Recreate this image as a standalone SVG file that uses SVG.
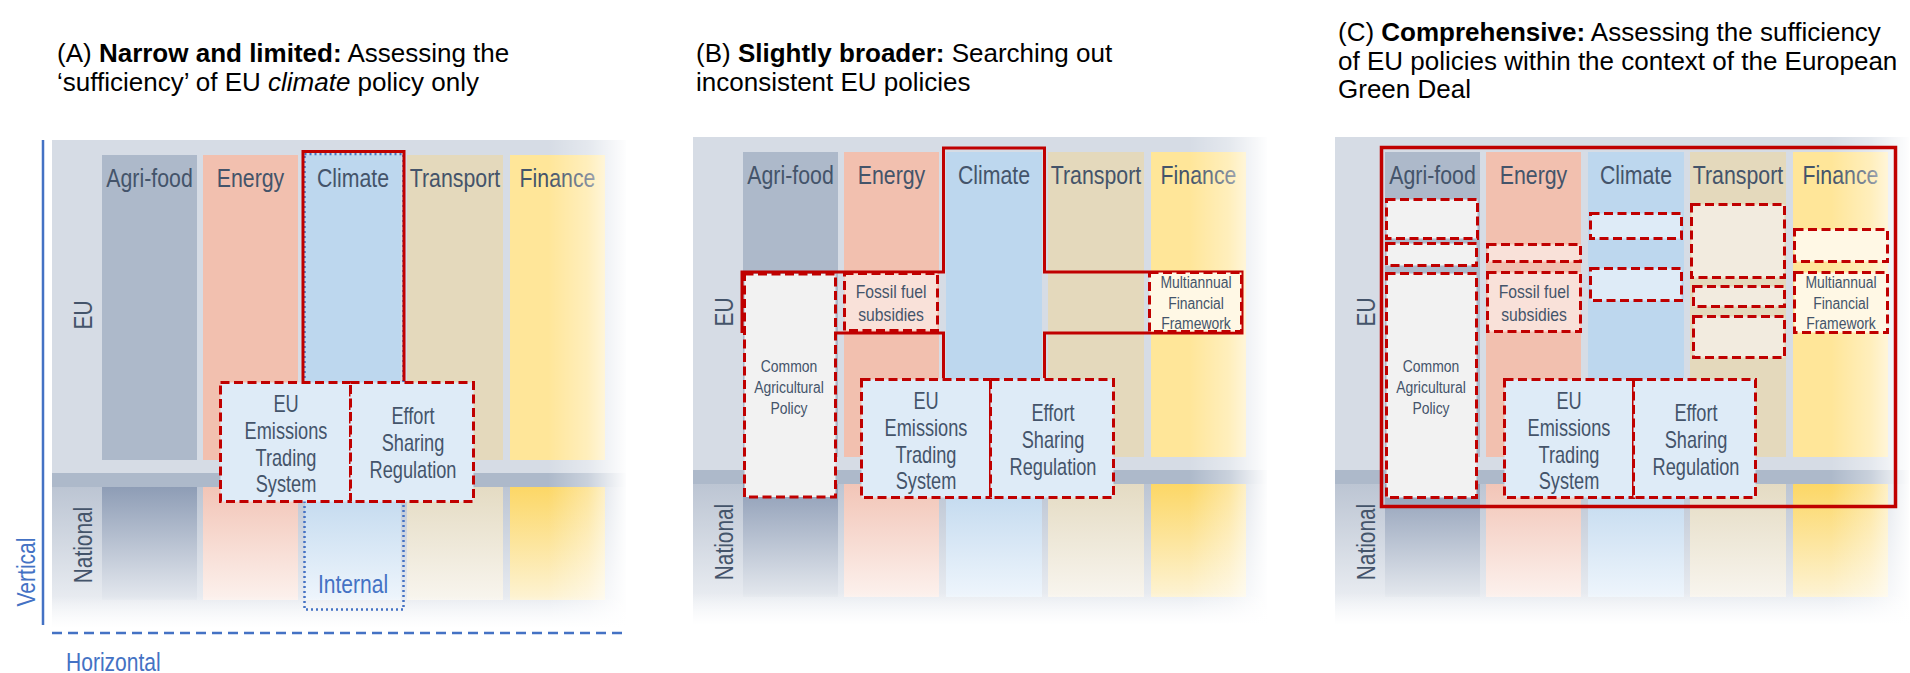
<svg xmlns="http://www.w3.org/2000/svg" width="1910" height="673" viewBox="0 0 1910 673">
<defs>
<style>
text{font-family:"Liberation Sans",Arial,Helvetica,sans-serif}
.ttl{font-size:26px;fill:#000}
.cl{font-size:26px;fill:#44546a;text-anchor:middle}
.bl{fill:#4472c4}
.bt{font-size:23px;fill:#44546a;text-anchor:middle}
.st{font-size:18.5px;fill:#44546a;text-anchor:middle}
.xt{font-size:16px;fill:#44546a;text-anchor:middle}
.rd{stroke:#c00000;stroke-width:3;stroke-dasharray:9 4.5}
.ol{fill:none;stroke:#c00000;stroke-width:3}
.fb{fill:#deebf7}.fg{fill:#f2f2f2}.fs{fill:#f9e1d9}.fy{fill:#fff8e5}.ft{fill:#f2ebdf}
.bg{fill:#d6dce5}.band{fill:#adb9ca}
.ca{fill:#adb9ca}.ce{fill:#f2c0af}.cc{fill:#bdd7ee}.ct{fill:#e4d9bc}.cf{fill:#ffe699}
</style>
<linearGradient id="gBg" x1="0" y1="0" x2="0" y2="1"><stop offset="0" stop-color="#bcc5d3"/><stop offset="1" stop-color="#f3f5f8"/></linearGradient>
<linearGradient id="gNa" x1="0" y1="0" x2="0" y2="1"><stop offset="0" stop-color="#8e9db6"/><stop offset="1" stop-color="#e4e8ee"/></linearGradient>
<linearGradient id="gNe" x1="0" y1="0" x2="0" y2="1"><stop offset="0" stop-color="#f2c5b7"/><stop offset="1" stop-color="#fcf1ed"/></linearGradient>
<linearGradient id="gNc" x1="0" y1="0" x2="0" y2="1"><stop offset="0" stop-color="#c0d8ee"/><stop offset="1" stop-color="#eef5fc"/></linearGradient>
<linearGradient id="gNt" x1="0" y1="0" x2="0" y2="1"><stop offset="0" stop-color="#e4dbc3"/><stop offset="1" stop-color="#f8f5ee"/></linearGradient>
<linearGradient id="gNf" x1="0" y1="0" x2="0" y2="1"><stop offset="0" stop-color="#fcd766"/><stop offset="1" stop-color="#fdf3d4"/></linearGradient>
<linearGradient id="fadeR" gradientUnits="userSpaceOnUse" x1="548" y1="0" x2="628" y2="0"><stop offset="0" stop-color="#fff" stop-opacity="0"/><stop offset="0.5" stop-color="#fff" stop-opacity="0.35"/><stop offset="1" stop-color="#fff" stop-opacity="1"/></linearGradient>
<linearGradient id="fadeB" gradientUnits="userSpaceOnUse" x1="0" y1="596" x2="0" y2="628"><stop offset="0" stop-color="#fff" stop-opacity="0"/><stop offset="1" stop-color="#fff" stop-opacity="1"/></linearGradient>
</defs>
<rect width="1910" height="673" fill="#fff"/>

<!-- Titles -->
<g id="titles">
<text class="ttl" x="57" y="62">(A) <tspan font-weight="bold">Narrow and limited:</tspan> Assessing the</text>
<text class="ttl" x="57" y="91">‘sufficiency’ of EU <tspan font-style="italic">climate</tspan> policy only</text>
<text class="ttl" x="696" y="62">(B) <tspan font-weight="bold">Slightly broader:</tspan> Searching out</text>
<text class="ttl" x="696" y="91">inconsistent EU policies</text>
<text class="ttl" x="1338" y="41">(C) <tspan font-weight="bold">Comprehensive:</tspan> Assessing the sufficiency</text>
<text class="ttl" x="1338" y="70">of EU policies within the context of the European</text>
<text class="ttl" x="1338" y="98">Green Deal</text>
</g>

<!-- ===== Panel A ===== -->
<g id="panel-a">
<g id="a-background">
<rect class="bg" x="52" y="140" width="574" height="487"/>
<rect x="52" y="487" width="574" height="140" fill="url(#gBg)"/>
<rect class="band" x="52" y="473" width="574" height="14"/>
</g>
<g id="a-col-agri"><rect class="ca" x="102" y="155" width="95" height="305"/><rect x="102" y="487" width="95" height="113" fill="url(#gNa)"/><text class="cl" transform="matrix(.82 0 0 1 149.5 187)">Agri-food</text></g>
<g id="a-col-energy"><rect class="ce" x="203" y="155" width="95" height="305"/><rect x="203" y="487" width="95" height="113" fill="url(#gNe)"/><text class="cl" transform="matrix(.82 0 0 1 250.5 187)">Energy</text></g>
<g id="a-col-climate"><rect class="cc" x="305" y="155" width="96" height="305"/><rect x="305" y="487" width="96" height="113" fill="url(#gNc)"/><text class="cl" transform="matrix(.82 0 0 1 353 187)">Climate</text></g>
<g id="a-col-transport"><rect class="ct" x="407" y="155" width="96" height="305"/><rect x="407" y="487" width="96" height="113" fill="url(#gNt)"/><text class="cl" transform="matrix(.82 0 0 1 455 187)">Transport</text></g>
<g id="a-col-finance"><rect class="cf" x="510" y="155" width="95" height="305"/><rect x="510" y="487" width="95" height="113" fill="url(#gNf)"/><text class="cl" transform="matrix(.82 0 0 1 557.5 187)">Finance</text></g>
<g id="a-levels"><text class="cl" transform="matrix(0 -.8 1 0 92 315)">EU</text><text class="cl" transform="matrix(0 -.8 1 0 92 545)">National</text></g>
<rect x="52" y="138" width="576" height="492" fill="url(#fadeR)"/>
<rect x="52" y="138" width="576" height="492" fill="url(#fadeB)"/>
<g id="a-internal">
<rect x="304.5" y="154" width="99" height="455.5" fill="none" stroke="#4472c4" stroke-width="2.5" stroke-dasharray="2 3"/>
<text class="cl bl" transform="matrix(.81 0 0 1 353 593)">Internal</text>
</g>
<g id="a-outline"><path class="ol" d="M303,381 V151.5 H404 V381"/></g>
<g id="a-ets"><rect class="fb rd" x="220.5" y="382.5" width="130" height="119"/>
<text class="bt" transform="matrix(.79 0 0 1 286 0)"><tspan x="0" y="412">EU</tspan><tspan x="0" y="439">Emissions</tspan><tspan x="0" y="466">Trading</tspan><tspan x="0" y="492">System</tspan></text></g>
<g id="a-esr"><rect class="fb rd" x="350.5" y="382.5" width="123" height="119"/>
<text class="bt" transform="matrix(.79 0 0 1 413 0)"><tspan x="0" y="424">Effort</tspan><tspan x="0" y="451">Sharing</tspan><tspan x="0" y="478">Regulation</tspan></text></g>
</g>

<!-- axes (connectors) -->
<g id="connectors">
<line x1="43" y1="140" x2="43" y2="625" stroke="#4472c4" stroke-width="2.5"/>
<line x1="52" y1="633" x2="624" y2="633" stroke="#4472c4" stroke-width="2.5" stroke-dasharray="10 6"/>
</g>
<g id="axis-labels">
<text class="cl bl" transform="matrix(0 -.81 1 0 35 572)">Vertical</text>
<text class="cl bl" style="text-anchor:start" transform="matrix(.81 0 0 1 66 671)">Horizontal</text>
</g>

<!-- ===== Panel B ===== -->
<g id="panel-b" transform="translate(641,-3)">
<g id="b-background">
<rect class="bg" x="52" y="140" width="574" height="487"/>
<rect x="52" y="487" width="574" height="140" fill="url(#gBg)"/>
<rect class="band" x="52" y="473" width="574" height="14"/>
</g>
<g id="b-col-agri"><rect class="ca" x="102" y="155" width="95" height="305"/><rect x="102" y="487" width="95" height="113" fill="url(#gNa)"/><text class="cl" transform="matrix(.82 0 0 1 149.5 187)">Agri-food</text></g>
<g id="b-col-energy"><rect class="ce" x="203" y="155" width="95" height="305"/><rect x="203" y="487" width="95" height="113" fill="url(#gNe)"/><text class="cl" transform="matrix(.82 0 0 1 250.5 187)">Energy</text></g>
<g id="b-col-climate"><rect class="cc" x="305" y="155" width="96" height="305"/><rect x="305" y="487" width="96" height="113" fill="url(#gNc)"/><text class="cl" transform="matrix(.82 0 0 1 353 187)">Climate</text></g>
<g id="b-col-transport"><rect class="ct" x="407" y="155" width="96" height="305"/><rect x="407" y="487" width="96" height="113" fill="url(#gNt)"/><text class="cl" transform="matrix(.82 0 0 1 455 187)">Transport</text></g>
<g id="b-col-finance"><rect class="cf" x="510" y="155" width="95" height="305"/><rect x="510" y="487" width="95" height="113" fill="url(#gNf)"/><text class="cl" transform="matrix(.82 0 0 1 557.5 187)">Finance</text></g>
<g id="b-levels"><text class="cl" transform="matrix(0 -.8 1 0 92 315)">EU</text><text class="cl" transform="matrix(0 -.8 1 0 92 545)">National</text></g>
<rect x="52" y="138" width="576" height="492" fill="url(#fadeR)"/>
<rect x="52" y="138" width="576" height="492" fill="url(#fadeB)"/>
<g id="b-outline"><path class="ol" d="M101,336 V275 H302.5 V151 H403.5 V275 H601 V336 H403.5 V381 M302.5,381 V336 H196"/></g>
<g id="b-cap"><rect class="fg rd" x="103.5" y="277" width="91" height="223"/>
<text class="xt" transform="matrix(.87 0 0 1 148 0)"><tspan x="0" y="375">Common</tspan><tspan x="0" y="396">Agricultural</tspan><tspan x="0" y="417">Policy</tspan></text></g>
<g id="b-fossil"><rect class="fs rd" x="203.5" y="276.5" width="93" height="57"/>
<text class="st" transform="matrix(.85 0 0 1 250 0)"><tspan x="0" y="301">Fossil fuel</tspan><tspan x="0" y="324">subsidies</tspan></text></g>
<g id="b-mff"><rect class="fy rd" x="508.5" y="275.5" width="92" height="59"/>
<text class="xt" transform="matrix(.87 0 0 1 555 0)"><tspan x="0" y="291">Multiannual</tspan><tspan x="0" y="312">Financial</tspan><tspan x="0" y="332">Framework</tspan></text></g>
<g id="b-ets"><rect class="fb rd" x="220.5" y="382.5" width="129" height="118"/>
<text class="bt" transform="matrix(.79 0 0 1 285 0)"><tspan x="0" y="412">EU</tspan><tspan x="0" y="439">Emissions</tspan><tspan x="0" y="466">Trading</tspan><tspan x="0" y="492">System</tspan></text></g>
<g id="b-esr"><rect class="fb rd" x="349.5" y="382.5" width="123" height="118"/>
<text class="bt" transform="matrix(.79 0 0 1 412 0)"><tspan x="0" y="424">Effort</tspan><tspan x="0" y="451">Sharing</tspan><tspan x="0" y="478">Regulation</tspan></text></g>
</g>

<!-- ===== Panel C ===== -->
<g id="panel-c" transform="translate(1283,-3)">
<g id="c-background">
<rect class="bg" x="52" y="140" width="574" height="487"/>
<rect x="52" y="487" width="574" height="140" fill="url(#gBg)"/>
<rect class="band" x="52" y="473" width="574" height="14"/>
</g>
<g id="c-col-agri"><rect class="ca" x="102" y="155" width="95" height="305"/><rect x="102" y="487" width="95" height="113" fill="url(#gNa)"/><text class="cl" transform="matrix(.82 0 0 1 149.5 187)">Agri-food</text></g>
<g id="c-col-energy"><rect class="ce" x="203" y="155" width="95" height="305"/><rect x="203" y="487" width="95" height="113" fill="url(#gNe)"/><text class="cl" transform="matrix(.82 0 0 1 250.5 187)">Energy</text></g>
<g id="c-col-climate"><rect class="cc" x="305" y="155" width="96" height="305"/><rect x="305" y="487" width="96" height="113" fill="url(#gNc)"/><text class="cl" transform="matrix(.82 0 0 1 353 187)">Climate</text></g>
<g id="c-col-transport"><rect class="ct" x="407" y="155" width="96" height="305"/><rect x="407" y="487" width="96" height="113" fill="url(#gNt)"/><text class="cl" transform="matrix(.82 0 0 1 455 187)">Transport</text></g>
<g id="c-col-finance"><rect class="cf" x="510" y="155" width="95" height="305"/><rect x="510" y="487" width="95" height="113" fill="url(#gNf)"/><text class="cl" transform="matrix(.82 0 0 1 557.5 187)">Finance</text></g>
<g id="c-levels"><text class="cl" transform="matrix(0 -.8 1 0 92 315)">EU</text><text class="cl" transform="matrix(0 -.8 1 0 92 545)">National</text></g>
<rect x="52" y="138" width="576" height="492" fill="url(#fadeR)"/>
<rect x="52" y="138" width="576" height="492" fill="url(#fadeB)"/>
<g id="c-outline"><rect x="98.5" y="150.5" width="514" height="359" fill="none" stroke="#c00000" stroke-width="3.5"/></g>
<g id="c-agri-1"><rect class="fg rd" x="103.5" y="202.5" width="91" height="39"/></g>
<g id="c-agri-2"><rect class="fg rd" x="103.5" y="246.5" width="90" height="22"/></g>
<g id="c-cap"><rect class="fg rd" x="103.5" y="276.5" width="90" height="224"/>
<text class="xt" transform="matrix(.87 0 0 1 148 0)"><tspan x="0" y="375">Common</tspan><tspan x="0" y="396">Agricultural</tspan><tspan x="0" y="417">Policy</tspan></text></g>
<g id="c-energy-1"><rect class="fs rd" x="204.5" y="247.5" width="93" height="17"/></g>
<g id="c-fossil"><rect class="fs rd" x="204.5" y="275.5" width="93" height="59"/>
<text class="st" transform="matrix(.85 0 0 1 251 0)"><tspan x="0" y="301">Fossil fuel</tspan><tspan x="0" y="324">subsidies</tspan></text></g>
<g id="c-climate-1"><rect class="fb rd" x="307.5" y="216.5" width="91" height="25"/></g>
<g id="c-climate-2"><rect class="fb rd" x="307.5" y="271.5" width="91" height="32"/></g>
<g id="c-transport-1"><rect class="ft rd" x="408.5" y="207.5" width="93" height="73"/></g>
<g id="c-transport-2"><rect class="ft rd" x="410.5" y="289.5" width="91" height="20"/></g>
<g id="c-transport-3"><rect class="ft rd" x="410.5" y="319.5" width="91" height="41"/></g>
<g id="c-finance-1"><rect class="fy rd" x="511.5" y="232.5" width="93" height="32"/></g>
<g id="c-mff"><rect class="fy rd" x="511.5" y="275.5" width="93" height="60"/>
<text class="xt" transform="matrix(.87 0 0 1 558 0)"><tspan x="0" y="291">Multiannual</tspan><tspan x="0" y="312">Financial</tspan><tspan x="0" y="332">Framework</tspan></text></g>
<g id="c-ets"><rect class="fb rd" x="221.5" y="382.5" width="129" height="118"/>
<text class="bt" transform="matrix(.79 0 0 1 286 0)"><tspan x="0" y="412">EU</tspan><tspan x="0" y="439">Emissions</tspan><tspan x="0" y="466">Trading</tspan><tspan x="0" y="492">System</tspan></text></g>
<g id="c-esr"><rect class="fb rd" x="350.5" y="382.5" width="122" height="118"/>
<text class="bt" transform="matrix(.79 0 0 1 413 0)"><tspan x="0" y="424">Effort</tspan><tspan x="0" y="451">Sharing</tspan><tspan x="0" y="478">Regulation</tspan></text></g>
</g>
</svg>
